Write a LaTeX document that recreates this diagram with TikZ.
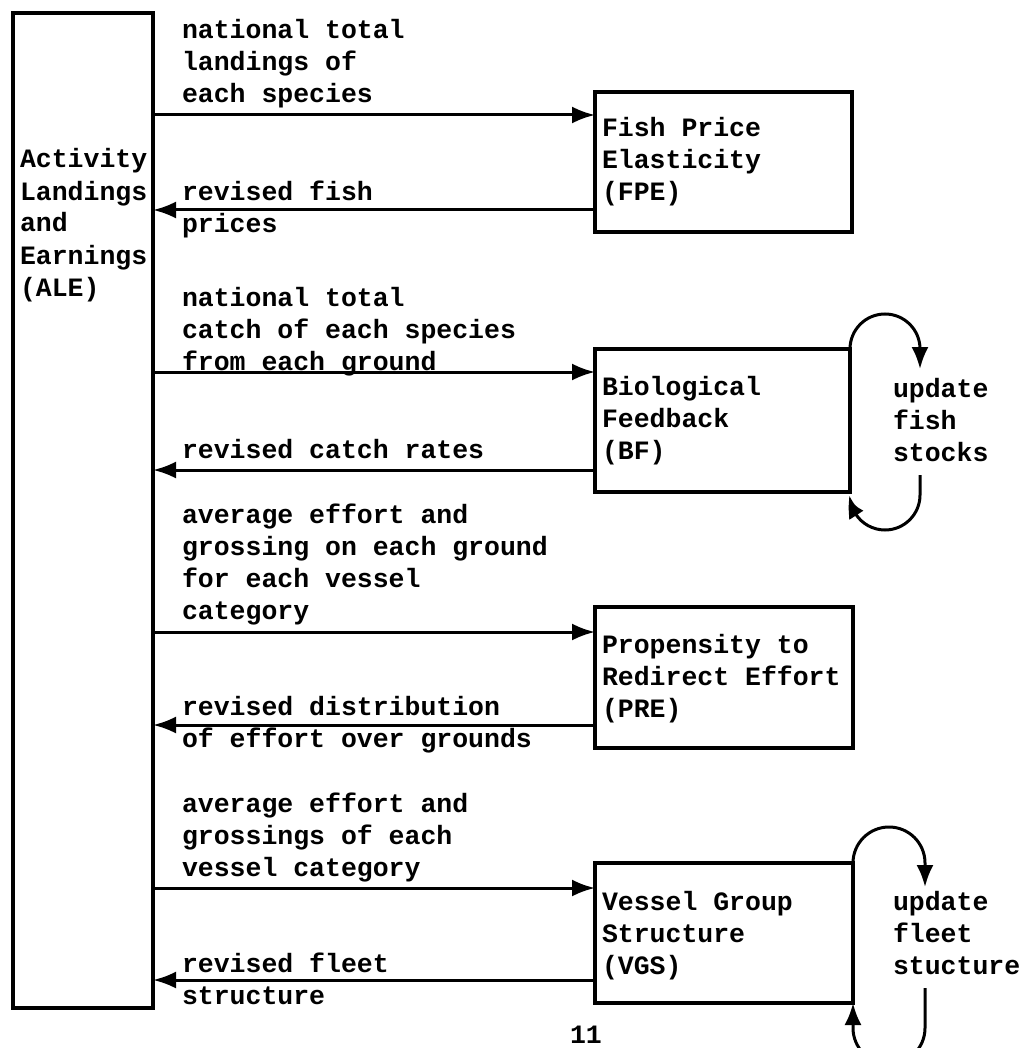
\documentclass[tikz,border=0pt]{standalone}
\usepackage{fontspec}
\setmonofont{Liberation Mono}
\usetikzlibrary{arrows.meta,bending}
\begin{document}
\begin{tikzpicture}[x=1pt,y=1pt,
  box/.style={draw, line width=4.5pt, inner sep=0pt, outer sep=0pt, anchor=north west},
  lbl/.style={anchor=north west, inner sep=0pt, outer sep=0pt, align=left, font=\fontsize{26.5}{32}\selectfont\ttfamily\bfseries},
  arr/.style={line width=3pt, -{Latex[length=23pt,width=17pt]}},
  loopar/.style={line width=3pt, -{Latex[length=22pt,width=17pt,bend]}}]
\useasboundingbox[fill=white] (0,0) rectangle (1031,-1048);

% boxes
\node[box, minimum width=140pt, minimum height=995pt] (ale) at (13,-13) {};
\node[box, minimum width=257pt, minimum height=140pt] (fpe) at (595,-92) {};
\node[box, minimum width=255pt, minimum height=143pt] (bf) at (595,-349) {};
\node[box, minimum width=258pt, minimum height=141pt] (pre) at (595,-607) {};
\node[box, minimum width=258pt, minimum height=140pt] (vgs) at (595,-863) {};

% box texts
\node[lbl] (aletxt) at (20,-145.6) {\strut Activity\\Landings\\and\\Earnings\\(ALE)};
\node[lbl] (fpetxt) at (602,-114.6) {\strut Fish Price\\Elasticity\\(FPE)};
\node[lbl] (bftxt) at (602,-372.6) {\strut Biological\\Feedback\\(BF)};
\node[lbl] (pretxt) at (602,-630.6) {\strut Propensity to\\Redirect Effort\\(PRE)};
\node[lbl] (vgstxt) at (602,-887.6) {\strut Vessel Group\\Structure\\(VGS)};
\node[lbl] (stocks) at (893,-374.6) {\strut update\\fish\\stocks};
\node[lbl] (fleet) at (893,-887.6) {\strut update\\fleet\\stucture};

% connector labels
\node[lbl] (l1) at (182,-16.6) {\strut national total\\landings of\\each species};
\node[lbl] (l2) at (182,-178.6) {\strut revised fish\\prices};
\node[lbl] (l3) at (182,-283.6) {\strut national total\\catch of each species\\from each ground};
\node[lbl] (l4) at (182,-435.6) {\strut revised catch rates};
\node[lbl] (l5) at (182,-500.6) {\strut average effort and\\grossing on each ground\\for each vessel\\category};
\node[lbl] (l6) at (182,-692.6) {\strut revised distribution\\of effort over grounds};
\node[lbl] (l7) at (182,-789.6) {\strut average effort and\\grossings of each\\vessel category};
\node[lbl] (l8) at (182,-949.6) {\strut revised fleet\\structure};
\node[lbl] (pg) at (570,-1020.6) {\strut 11};

% connectors
\draw[arr] (ale.east |- 0,-115) -- (fpe.west |- 0,-115);
\draw[arr] (fpe.west |- 0,-210) -- (ale.east |- 0,-210);
\draw[arr] (ale.east |- 0,-372) -- (bf.west |- 0,-372);
\draw[arr] (bf.west |- 0,-470) -- (ale.east |- 0,-470);
\draw[arr] (ale.east |- 0,-632) -- (pre.west |- 0,-632);
\draw[arr] (pre.west |- 0,-725) -- (ale.east |- 0,-725);
\draw[arr] (ale.east |- 0,-888) -- (vgs.west |- 0,-888);
\draw[arr] (vgs.west |- 0,-980) -- (ale.east |- 0,-980);

% loops
\coordinate (bfl) at (920,-475);
\coordinate (vgl) at (925,-988);
\draw[loopar] (bf.north east) arc[start angle=180,end angle=0,radius=35] -- ++(0,-20);
\draw[loopar] (bfl) -- (920,-495) arc[start angle=0,end angle=-180,radius=35];
\draw[loopar] (vgs.north east) arc[start angle=180,end angle=0,radius=36] -- ++(0,-24);
\draw[loopar] (vgl) -- (925,-1028) arc[start angle=0,end angle=-180,radius=36] -- (vgs.south east);
\end{tikzpicture}
\end{document}
